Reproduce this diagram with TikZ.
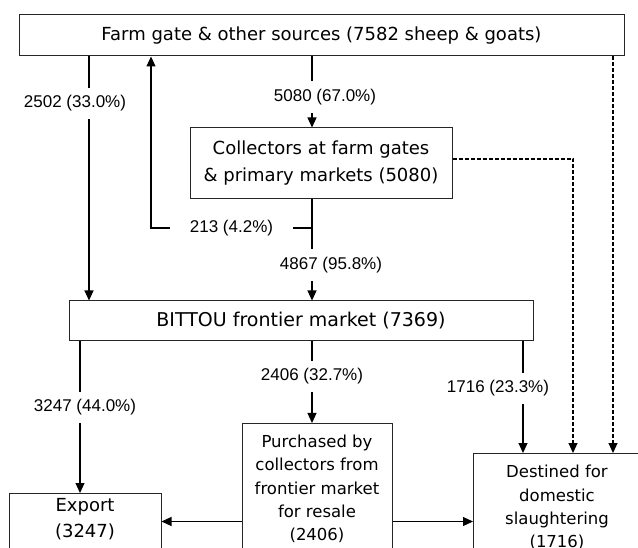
\documentclass[tikz,border=0pt]{standalone}
\usepackage{fontspec}
\setmainfont{Liberation Sans}
\newfontfamily\boxfont{DejaVu Sans}
\usetikzlibrary{arrows.meta}

\begin{document}
\begin{tikzpicture}[x=1pt,y=-1pt,
  every node/.style={inner sep=0pt},
  box/.style={draw=black!85, line width=1pt, fill=white},
  boxtxt/.style={font=\boxfont\fontsize{18}{23.3}\selectfont, align=center},
  smalltxt/.style={font=\boxfont\fontsize{16.5}{23.3}\selectfont, align=center},
  flow/.style={line width=1.1pt, -{Triangle[length=10pt,width=9pt]}},
  dflow/.style={flow, dash pattern=on 4pt off 2pt},
  lbl/.style={fill=white, font=\fontsize{17}{18}\selectfont,
    text height=12pt, text depth=3.5pt, inner xsep=3pt, inner ysep=8pt}
]
\clip (0,0) rectangle (638,548);

% boxes
\node[box, boxtxt, minimum width=605pt, minimum height=41pt] (top) at (321.5,35.5)
  {Farm gate \& other sources (7582 sheep \& goats)};
\node[box, boxtxt, font=\boxfont\fontsize{18}{27}\selectfont,
      minimum width=262pt, minimum height=71pt] (coll) at (321,163.5)
  {Collectors at farm gates\\\& primary markets (5080)};
\node[box, boxtxt, font=\boxfont\fontsize{19}{23.3}\selectfont,
      minimum width=464pt, minimum height=40pt] (bittou) at (301,321)
  {BITTOU frontier market (7369)};
\node[box, minimum width=152pt, minimum height=100pt, anchor=north] (export) at (85,493) {};
\node[boxtxt, font=\boxfont\fontsize{18}{26}\selectfont] (exportlbl) at (85,519) {Export\\(3247)};
\node[box, minimum width=150pt, minimum height=150pt, anchor=north] (purch) at (317,423) {};
\node[smalltxt] (purchlbl) at (317,489)
  {Purchased by\\collectors from\\frontier market\\for resale\\(2406)};
\node[box, minimum width=170pt, minimum height=120pt, anchor=north west] (dest) at (473,453) {};
\node[smalltxt] (destlbl) at (557,507.5) {Destined for\\domestic\\slaughtering\\(1716)};

% columns and rows used by the connectors
\coordinate (xa) at (89,0);
\coordinate (xb) at (151,0);
\coordinate (xc) at (312,0);
\coordinate (xd) at (80,0);
\coordinate (xe) at (523,0);
\coordinate (xf) at (573,0);
\coordinate (xg) at (613,0);
\coordinate (split) at (312,228);
\coordinate (yd) at (0,159);
\coordinate (ym) at (0,521.5);

% flows out of the farm gate
\draw[flow] (top.south -| xa) -- node[lbl, pos=0.192, xshift=-14pt] {2502 (33.0\%)} (bittou.north -| xa);
\draw[flow] (top.south -| xc) -- node[lbl, pos=0.57, xshift=13pt] {5080 (67.0\%)} (coll.north -| xc);
\draw[dflow] (top.south -| xg) -- (dest.north -| xg);

% flows out of the collectors
\draw[flow] (coll.south -| xc) -- node[lbl, pos=0.647, xshift=19pt] {4867 (95.8\%)} (bittou.north -| xc);
\draw[flow] (split) -| node[lbl, pos=0.25, inner xsep=20pt] {213 (4.2\%)} (top.south -| xb);
\draw[dflow] (coll.east |- yd) -| (dest.north -| xf);

% flows out of the frontier market
\draw[flow] (bittou.south -| xd) -- node[lbl, pos=0.434, xshift=5pt] {3247 (44.0\%)} (export.north -| xd);
\draw[flow] (bittou.south -| xc) -- node[lbl, pos=0.427] {2406 (32.7\%)} (purch.north -| xc);
\draw[flow] (bittou.south -| xe) -- node[lbl, pos=0.42, xshift=-25pt] {1716 (23.3\%)} (dest.north -| xe);

% resale
\draw[flow] (purch.west |- ym) -- (export.east |- ym);
\draw[flow] (purch.east |- ym) -- (dest.west |- ym);
\end{tikzpicture}
\end{document}
